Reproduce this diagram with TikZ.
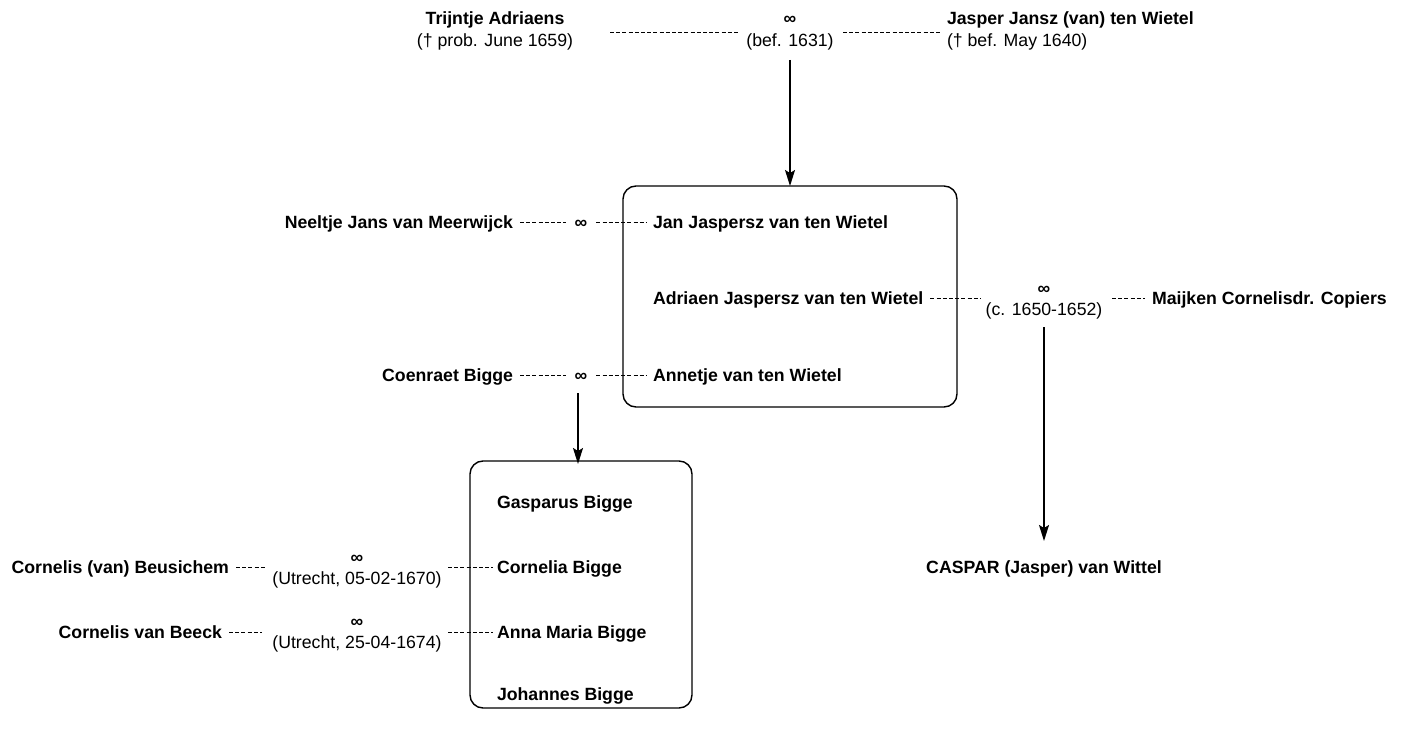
\documentclass[tikz,border=0pt]{standalone}
\usepackage{fontspec}
\setmainfont{Liberation Sans}
\usetikzlibrary{arrows.meta}
\begin{document}
\begin{tikzpicture}[x=1pt,y=-1pt,
  every node/.style={inner sep=0pt,outer sep=0pt,text height=12.7pt,text depth=0pt,font=\fontsize{17.7pt}{20pt}\selectfont},
  person/.style={font=\fontsize{17.7pt}{20pt}\selectfont\bfseries},
  note/.style={font=\fontsize{17.7pt}{20pt}\selectfont},
  inf/.style={font=\fontsize{17.7pt}{20pt}\selectfont\bfseries},
  marr/.style={draw=black,line width=0.9pt,dash pattern=on 4pt off 2.2pt},
  desc/.style={draw=black,line width=1.4pt,-{Stealth[length=16pt,width=10pt,inset=3pt]}},
  famb/.style={draw=black,line width=1.4pt,rounded corners=13pt}]
\useasboundingbox (0,0) rectangle (1405,738);
% top generation
\node[person] (trijntje) at (495,18) {Trijntje Adriaens};
\node[note] (trijntjed) at (495,40) {(† prob. June 1659)};
\node[inf] (m1) at (790,18) {∞};
\node[note] (m1d) at (790,40) {(bef. 1631)};
\node[person,anchor=west] (jasper) at (947,18) {Jasper Jansz (van) ten Wietel};
\node[note,anchor=west] (jasperd) at (947,40) {(† bef. May 1640)};
\coordinate (t1a) at (610,32); \coordinate (t1b) at (740,32);
\coordinate (t2a) at (843,32); \coordinate (t2b) at (940,32);
\draw[marr] (t1a) -- (t1b);
\draw[marr] (t2a) -- (t2b);
% box 1
\draw[famb] (623,186) rectangle (957,407);
\coordinate (box1top) at (790,186);
\coordinate (a1s) at (790,60);
\draw[desc] (a1s) -- (box1top);
\node[person,anchor=west] (jan) at (653,222) {Jan Jaspersz van ten Wietel};
\node[person,anchor=west] (adriaen) at (653,298) {Adriaen Jaspersz van ten Wietel};
\node[person,anchor=west] (annetje) at (653,375) {Annetje van ten Wietel};
% Jan marriage
\node[person,anchor=east] (neeltje) at (513,222) {Neeltje Jans van Meerwijck};
\node[inf] (m2) at (581,222) {∞};
\draw[marr] ([xshift=7pt]neeltje.east) -- ([xshift=-9pt]m2.west);
\draw[marr] ([xshift=9pt]m2.east) -- ([xshift=-6pt]jan.west);
% Annetje marriage
\node[person,anchor=east] (coenraet) at (513,375) {Coenraet Bigge};
\node[inf] (m3) at (581,375) {∞};
\draw[marr] ([xshift=7pt]coenraet.east) -- ([xshift=-9pt]m3.west);
\draw[marr] ([xshift=9pt]m3.east) -- ([xshift=-6pt]annetje.west);
% Adriaen marriage
\node[inf] (m4) at (1044,288) {∞};
\node[note] (m4d) at (1044,309) {(c. 1650-1652)};
\node[person,anchor=west] (maijken) at (1152,298) {Maijken Cornelisdr. Copiers};
\draw[marr] ([xshift=7pt]adriaen.east) -- (980,298);
\draw[marr] (1112,298) -- ([xshift=-7pt]maijken.west);
\node[person] (caspar) at (1044,567) {CASPAR (Jasper) van Wittel};
\coordinate (a2s) at (1044,327);
\draw[desc] (a2s) -- (1044,541);
% box 2
\coordinate (a3s) at (578,393);
\draw[famb] (470,461) rectangle (692,708);
\coordinate (box2top) at (578,461);
\draw[desc] (a3s) -- ([yshift=-3pt]box2top);
\node[person,anchor=west] (gasparus) at (497,502) {Gasparus Bigge};
\node[person,anchor=west] (cornelia) at (497,567) {Cornelia Bigge};
\node[person,anchor=west] (anna) at (497,632) {Anna Maria Bigge};
\node[person,anchor=west] (johannes) at (497,694) {Johannes Bigge};
% Cornelia marriage
\node[person,anchor=east] (beusichem) at (229,567) {Cornelis (van) Beusichem};
\node[inf] (m5) at (357,557) {∞};
\node[note] (m5d) at (357,578) {(Utrecht, 05-02-1670)};
\draw[marr] ([xshift=7pt]beusichem.east) -- (265,567);
\draw[marr] (448,567) -- ([xshift=-4pt]cornelia.west);
% Anna marriage
\node[person,anchor=east] (beeck) at (222,632) {Cornelis van Beeck};
\node[inf] (m6) at (357,621) {∞};
\node[note] (m6d) at (357,642) {(Utrecht, 25-04-1674)};
\draw[marr] ([xshift=7pt]beeck.east) -- (262,632);
\draw[marr] (448,632) -- ([xshift=-4pt]anna.west);
\end{tikzpicture}
\end{document}
